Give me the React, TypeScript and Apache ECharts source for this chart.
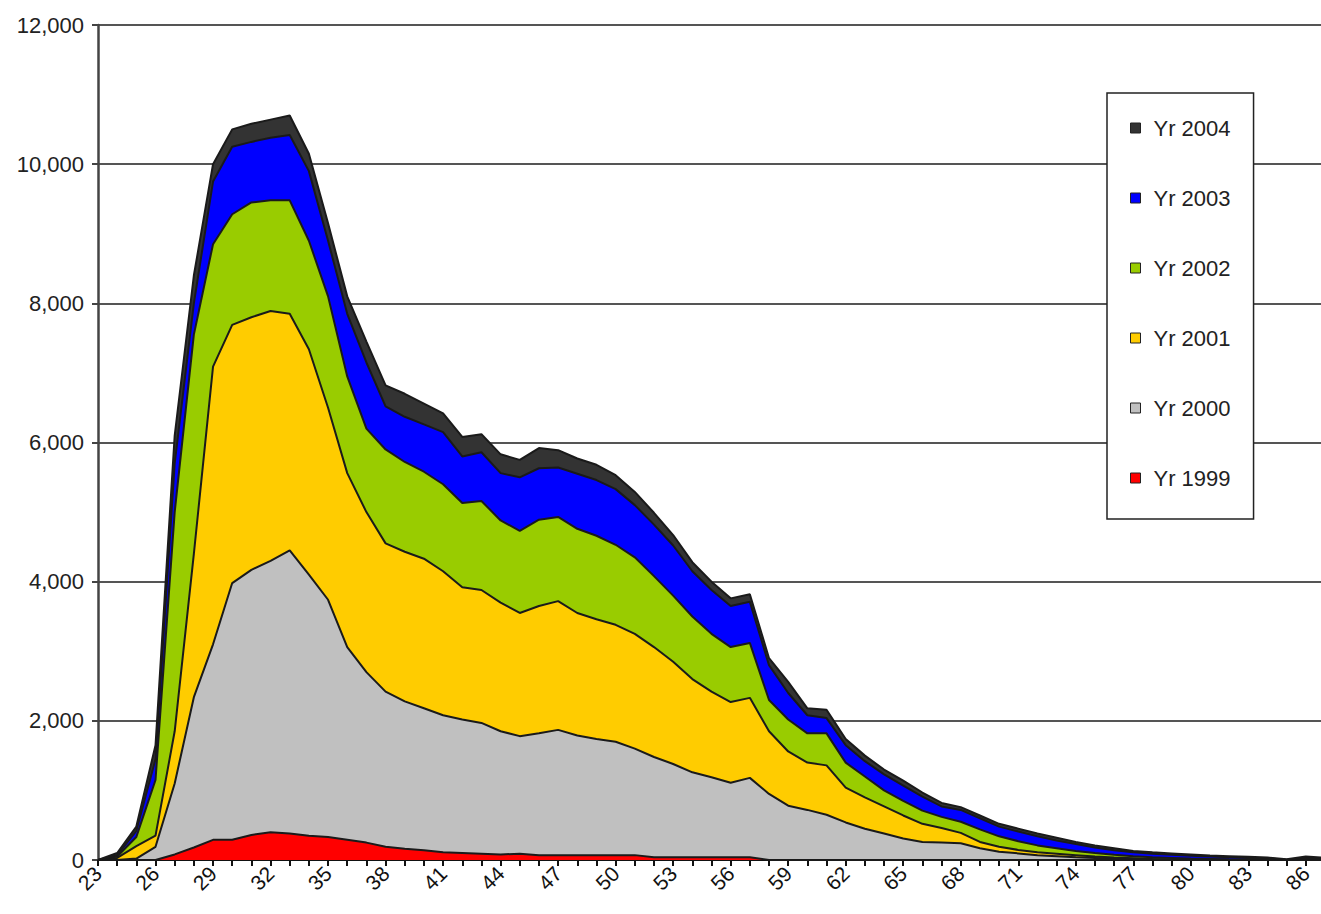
import React, { useEffect, useRef } from "react";
import * as echarts from "echarts";

const categories = [
  "23", "24", "25", "26", "27", "28", "29", "30", "31", "32", "33", "34", "35", "36", "37", "38",
  "39", "40", "41", "42", "43", "44", "45", "46", "47", "48", "49", "50", "51", "52", "53", "54",
  "55", "56", "57", "58", "59", "60", "61", "62", "63", "64", "65", "66", "67", "68", "69", "70",
  "71", "72", "73", "74", "75", "76", "77", "78", "79", "80", "81", "82", "83", "84", "85", "86", "87",
];

const yr1999 = [
  0, 0, 0, 0, 80, 180, 290, 290, 360, 400, 380,
  350, 330, 290, 250, 190, 160, 140, 110, 100, 90, 80,
  90, 70, 70, 70, 70, 70, 70, 40, 40, 40, 40,
  40, 40, 0, 0, 0, 0, 0, 0, 0, 0, 0,
  0, 0, 0, 0, 0, 0, 0, 0, 0, 0, 0,
  0, 0, 0, 0, 0, 0, 0, 0, 0, 0,
];

const yr2000 = [
  0, 0, 20, 190, 1020, 2160, 2810, 3690, 3810, 3900, 4070,
  3750, 3410, 2770, 2450, 2230, 2120, 2040, 1970, 1920, 1880, 1770,
  1690, 1750, 1800, 1720, 1670, 1630, 1530, 1440, 1340, 1220, 1150,
  1070, 1140, 950, 780, 720, 650, 540, 450, 380, 310, 260,
  250, 240, 170, 120, 95, 70, 55, 40, 30, 20, 15,
  10, 5, 0, 0, 0, 0, 0, 0, 0, 0,
];

const yr2001 = [
  0, 30, 180, 160, 750, 2060, 3990, 3710, 3630, 3590, 3400,
  3240, 2760, 2500, 2300, 2130, 2150, 2150, 2070, 1900, 1910, 1850,
  1770, 1830, 1850, 1760, 1720, 1680, 1650, 1580, 1470, 1340, 1230,
  1160, 1150, 900, 780, 680, 710, 500, 450, 390, 330, 260,
  210, 150, 90, 70, 50, 40, 35, 30, 20, 15, 10,
  5, 5, 5, 0, 0, 0, 0, 0, 0, 0,
];

const yr2002 = [
  0, 20, 130, 800, 3150, 3150, 1760, 1590, 1650, 1590, 1630,
  1560, 1600, 1390, 1200, 1350, 1290, 1250, 1250, 1210, 1280, 1180,
  1180, 1240, 1210, 1210, 1200, 1150, 1100, 1020, 950, 900, 830,
  790, 790, 450, 460, 420, 460, 360, 300, 230, 210, 190,
  160, 160, 180, 150, 125, 100, 80, 60, 50, 40, 30,
  25, 20, 15, 15, 10, 8, 5, 0, 10, 5,
];

const yr2003 = [
  0, 20, 90, 300, 700, 450, 900, 970, 870, 900, 940,
  1000, 800, 900, 950, 620, 650, 680, 750, 670, 700, 680,
  770, 740, 710, 790, 800, 800, 750, 740, 720, 650, 630,
  590, 590, 500, 380, 260, 220, 250, 220, 230, 220, 200,
  150, 170, 160, 140, 140, 130, 110, 100, 80, 65, 55,
  50, 45, 40, 35, 30, 22, 20, 5, 20, 15,
];

const yr2004 = [
  0, 30, 60, 200, 400, 400, 250, 250, 260, 260, 280,
  250, 250, 250, 300, 300, 330, 300, 270, 280, 260, 270,
  250, 290, 250, 220, 220, 200, 190, 170, 150, 130, 120,
  110, 110, 100, 160, 100, 120, 90, 80, 70, 70, 60,
  50, 40, 40, 40, 40, 40, 40, 30, 30, 30, 20,
  20, 20, 20, 15, 15, 15, 10, 5, 20, 10,
];

const seriesNames = ["Yr 1999", "Yr 2000", "Yr 2001", "Yr 2002", "Yr 2003", "Yr 2004"];
const seriesColors = ["#ff0000", "#c0c0c0", "#ffcc00", "#99cc00", "#0000ff", "#333333"];
const seriesData = [yr1999, yr2000, yr2001, yr2002, yr2003, yr2004];
const legendOrder = ["Yr 2004", "Yr 2003", "Yr 2002", "Yr 2001", "Yr 2000", "Yr 1999"];

const FONT = "'Liberation Sans', Arial, Helvetica, sans-serif";

export default function App() {
  const ref = useRef<HTMLDivElement>(null);

  useEffect(() => {
    if (!ref.current) return;
    const chart = echarts.init(ref.current, undefined, { renderer: "svg" });
    chart.setOption({
      animation: false,
      backgroundColor: "#ffffff",
      grid: { left: 98, top: 25, right: -4, bottom: 54, outerBoundsMode: "none" },
      xAxis: {
        type: "category",
        data: categories,
        boundaryGap: false,
        axisLine: { show: true, lineStyle: { color: "#111", width: 2 } },
        axisTick: { show: true, interval: 0, length: 6, lineStyle: { color: "#111", width: 2 } },
        axisLabel: {
          interval: 2,
          rotate: 45,
          fontSize: 21,
          color: "#111",
          fontFamily: FONT,
          margin: 10,
        },
        splitLine: { show: false },
      },
      yAxis: {
        type: "value",
        min: 0,
        max: 12000,
        interval: 2000,
        axisLine: { show: true, lineStyle: { color: "#444", width: 2.5 } },
        axisTick: { show: true, length: 6, lineStyle: { color: "#444", width: 2 } },
        axisLabel: {
          formatter: (v: number) => v.toLocaleString("en-US"),
          fontSize: 22,
          color: "#222",
          fontFamily: FONT,
          margin: 14,
        },
        splitLine: { show: true, lineStyle: { color: "#555", width: 2 } },
      },
      legend: {
        orient: "vertical",
        left: 1107,
        top: 93,
        data: legendOrder,
        backgroundColor: "#fff",
        borderColor: "#222",
        borderWidth: 1.5,
        padding: [24, 23, 30, 23],
        itemGap: 48,
        itemWidth: 10,
        itemHeight: 10,
        icon: "rect",
        itemStyle: { borderColor: "#222", borderWidth: 1 },
        textStyle: { fontSize: 22, color: "#222", fontFamily: FONT, lineHeight: 22, padding: [0, 0, 0, 8] },
        selectedMode: false,
      },
      series: seriesNames.map((name, i) => ({
        name,
        type: "line",
        stack: "total",
        data: seriesData[i],
        symbol: "none",
        showSymbol: false,
        itemStyle: { color: seriesColors[i] },
        lineStyle: { color: "#1a1a1a", width: 2 },
        areaStyle: { color: seriesColors[i], opacity: 1 },
        emphasis: { disabled: true },
      })),
    });
    return () => chart.dispose();
  }, []);

  return (
    <div
      ref={ref}
      style={{ position: "fixed", left: 0, top: 0, width: 1321, height: 914, background: "#fff" }}
    />
  );
}
